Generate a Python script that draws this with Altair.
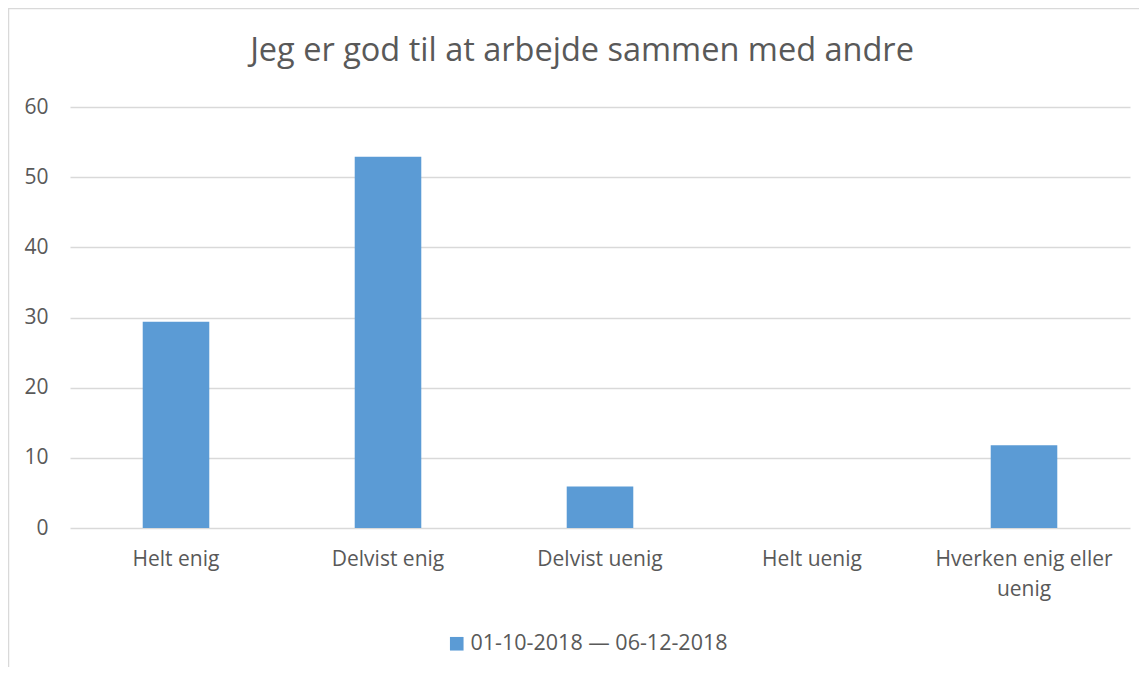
import altair as alt
import pandas as pd

categories = ["Helt enig", "Delvist enig", "Delvist uenig", "Helt uenig", "Hverken enig eller uenig"]
values = [29.4, 52.9, 5.9, 0.0, 11.8]
series_name = "01-10-2018 — 06-12-2018"
y_ticks = [0, 10, 20, 30, 40, 50, 60]
title_text = "Jeg er god til at arbejde sammen med andre"

df = pd.DataFrame({"category": categories, "value": values, "series": [series_name] * len(categories)})

FONT = "Open Sans"
TXT = "#595959"
GRID = "#d9d9d9"
BLUE = "#5b9bd5"

W, H = 1060, 421

bars = alt.Chart(df).mark_bar(color=BLUE).encode(
    x=alt.X("category:N", sort=categories,
            scale=alt.Scale(paddingInner=0.686, paddingOuter=0.343),
            axis=alt.Axis(title=None, labelAngle=0, ticks=False, domain=False, grid=False,
                          labelFont=FONT, labelFontSize=21, labelColor=TXT, labelPadding=31,
                          labelLineHeight=30, labelBaseline="middle", labelLimit=400,
                          labelExpr="datum.label == 'Hverken enig eller uenig' ? ['Hverken enig eller', 'uenig'] : datum.label")),
    y=alt.Y("value:Q", scale=alt.Scale(domain=[0, 60], nice=False),
            axis=alt.Axis(title=None, values=y_ticks, ticks=False, domain=False, grid=True,
                          gridColor=GRID, gridWidth=1.3, labelFont=FONT, labelFontSize=21,
                          labelColor=TXT, labelPadding=22)),
    color=alt.Color("series:N", scale=alt.Scale(range=[BLUE]),
                    legend=alt.Legend(title=None, orient="none", legendX=376, legendY=526,
                                      direction="horizontal", symbolType="square", symbolSize=185,
                                      symbolStrokeWidth=0, labelFont=FONT, labelFontSize=21.5,
                                      labelColor=TXT, labelOffset=3, labelLimit=600)),
)

border_df = pd.DataFrame({"k": [0]})
border = alt.Chart(border_df).mark_rect(fill=None, stroke=GRID, strokeWidth=1.5).encode(
    x=alt.value(-61.5), x2=alt.value(1100), y=alt.value(-98.5), y2=alt.value(700)
)

title = alt.Chart(border_df).mark_text(
    font=FONT, fontSize=32.5, color=TXT, align="center", baseline="alphabetic"
).encode(x=alt.value(512), y=alt.value(-46), text=alt.value(title_text))

chart = alt.layer(border, bars, title).properties(
    width=W, height=H,
    autosize=alt.AutoSizeParams(type="none"),
    padding={"left": 62, "top": 99, "right": 9, "bottom": 139},
).configure_view(stroke=None)

chart.save("out.html", embed_options={"renderer": "svg", "actions": False})
